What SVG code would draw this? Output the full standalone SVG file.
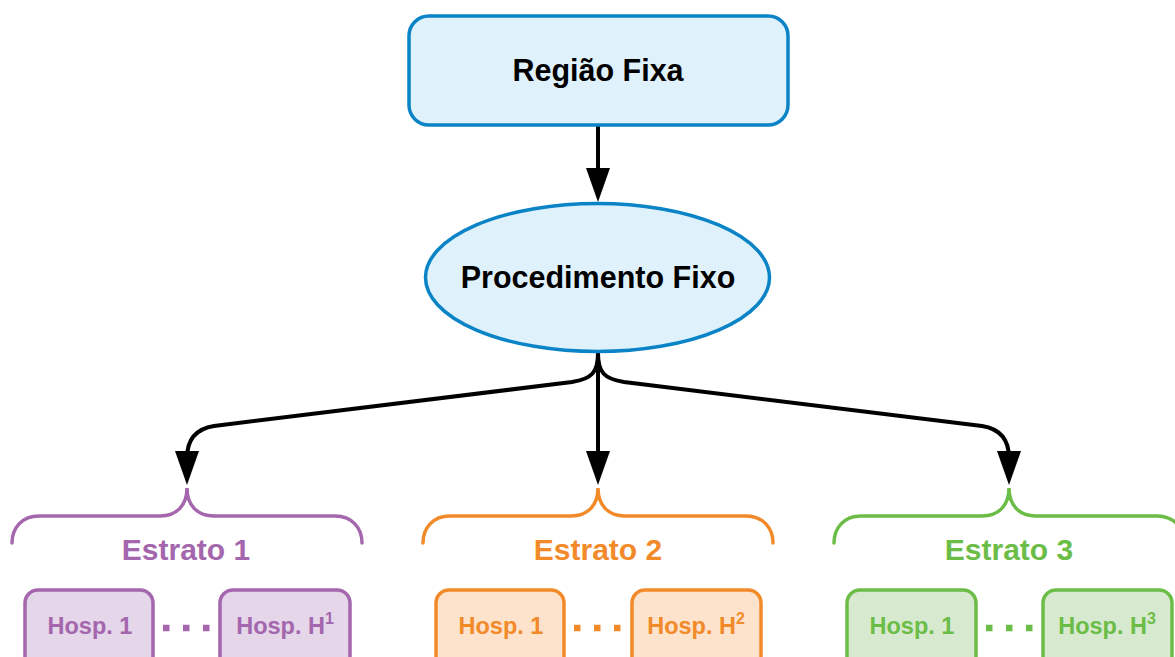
<svg xmlns="http://www.w3.org/2000/svg" width="1175" height="657" viewBox="0 0 1175 657">
<style>
.t{font-family:"Liberation Sans",Arial,Helvetica,sans-serif;font-weight:bold;text-anchor:middle}
.big{font-size:30.5px}
.est{font-size:30px}
.small{font-size:23.5px}
.sup{font-size:16px}
.blue{fill:#dff1fb;stroke:#0a84c6;stroke-width:3.5}
.conn{fill:none;stroke:#000;stroke-width:4}
.brace{fill:none;stroke-width:3.5;stroke-linecap:round}
.box{stroke-width:3.5}
.dots{fill:none;stroke-width:6.5;stroke-dasharray:6.5 13.5}
.p .brace,.p .box,.p .dots{stroke:#a466ad}
.p .box{fill:#e5d6ea}
.p text{fill:#a466ad}
.o .brace,.o .box,.o .dots{stroke:#f28a2a}
.o .box{fill:#fde3cc}
.o text{fill:#f28a2a}
.g .brace,.g .box,.g .dots{stroke:#6cbd48}
.g .box{fill:#d7eacf}
.g text{fill:#6cbd48}
</style>
<defs>
<marker id="ah" markerUnits="userSpaceOnUse" markerWidth="34" markerHeight="24" refX="24" refY="12" orient="auto" viewBox="0 0 34 24">
<path d="M0,0 L34,12 L0,24 Z" fill="#000"/>
</marker>
</defs>
<rect width="1175" height="657" fill="#fff"/>
<g id="connectors">
<path class="conn" d="M598,126 L598,192" marker-end="url(#ah)"/>
<path class="conn" d="M598,353 L598,475" marker-end="url(#ah)"/>
<path class="conn" d="M598,353 C598,372 592,379 572,382 L214,426 C195,429 187,440 187,458 L187,475" marker-end="url(#ah)"/>
<path class="conn" d="M598,353 C598,372 604,379 624,382 L982,426 C1001,429 1009,440 1009,458 L1009,475" marker-end="url(#ah)"/>
</g>
<g id="regiao">
<rect class="blue" x="409" y="16" width="379" height="109" rx="20"/>
<text class="t big" x="598" y="81">Região Fixa</text>
</g>
<g id="procedimento">
<ellipse class="blue" cx="597.5" cy="277.5" rx="172" ry="74"/>
<text class="t big" x="598" y="288">Procedimento Fixo</text>
</g>
<g id="estrato1" class="p">
<path class="brace" d="M12,543 C12,528 22,516 39,516 L160,516 C177,516 187,505 187,488 C187,505 197,516 214,516 L335,516 C352,516 362,528 362,543"/>
<text class="t est" x="186" y="560">Estrato 1</text>
</g>
<g id="hosp1-1" class="p">
<rect class="box" x="25" y="590" width="128" height="80" rx="13"/>
<text class="t small" x="90" y="634">Hosp. 1</text>
</g>
<g id="dots1" class="p"><path class="dots" d="M163,628 L210,628"/></g>
<g id="hosp1-h" class="p">
<rect class="box" x="220" y="590" width="130" height="80" rx="13"/>
<text class="t small" x="285" y="634">Hosp. H<tspan class="sup" dy="-10">1</tspan></text>
</g>
<g id="estrato2" class="o">
<path class="brace" d="M423,543 C423,528 433,516 450,516 L571,516 C588,516 598,505 598,488 C598,505 608,516 625,516 L746,516 C763,516 773,528 773,543"/>
<text class="t est" x="598" y="560">Estrato 2</text>
</g>
<g id="hosp2-1" class="o">
<rect class="box" x="436" y="590" width="128" height="80" rx="13"/>
<text class="t small" x="501" y="634">Hosp. 1</text>
</g>
<g id="dots2" class="o"><path class="dots" d="M574,628 L621,628"/></g>
<g id="hosp2-h" class="o">
<rect class="box" x="632" y="590" width="129" height="80" rx="13"/>
<text class="t small" x="696" y="634">Hosp. H<tspan class="sup" dy="-10">2</tspan></text>
</g>
<g id="estrato3" class="g">
<path class="brace" d="M834,543 C834,528 844,516 861,516 L982,516 C999,516 1009,505 1009,488 C1009,505 1019,516 1036,516 L1157,516 C1174,516 1184,528 1184,543"/>
<text class="t est" x="1009" y="560">Estrato 3</text>
</g>
<g id="hosp3-1" class="g">
<rect class="box" x="847" y="590" width="129" height="80" rx="13"/>
<text class="t small" x="912" y="634">Hosp. 1</text>
</g>
<g id="dots3" class="g"><path class="dots" d="M986,628 L1033,628"/></g>
<g id="hosp3-h" class="g">
<rect class="box" x="1043" y="590" width="129" height="80" rx="13"/>
<text class="t small" x="1107" y="634">Hosp. H<tspan class="sup" dy="-10">3</tspan></text>
</g>
</svg>
